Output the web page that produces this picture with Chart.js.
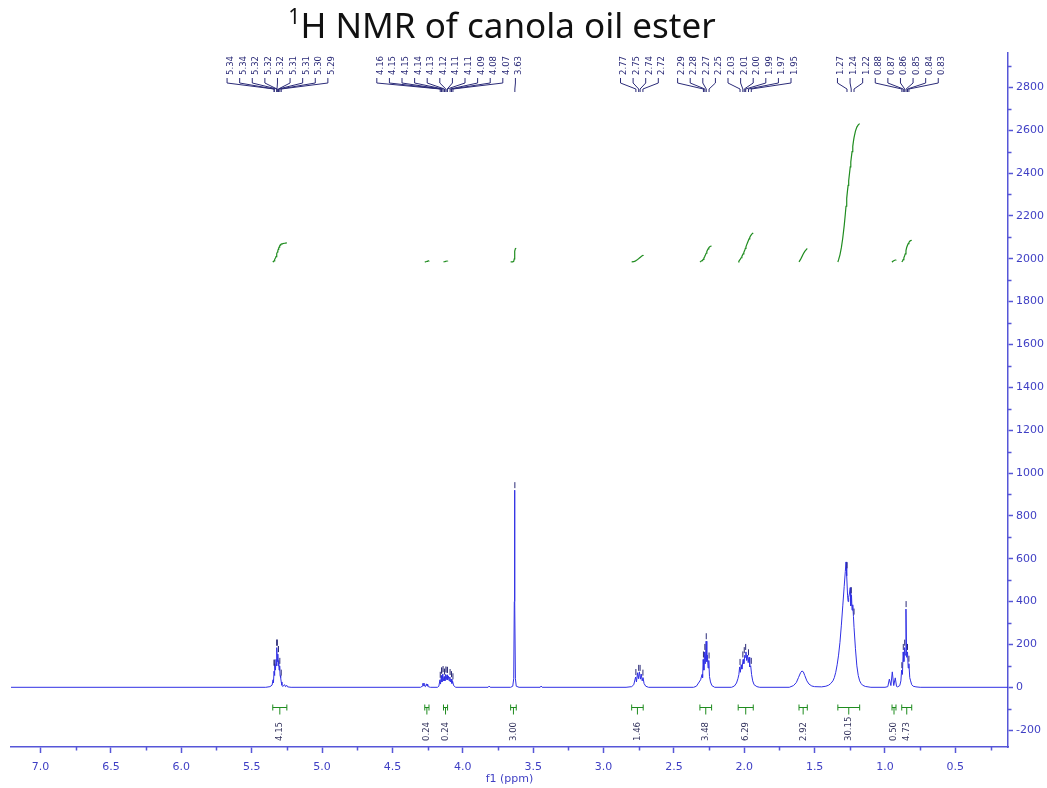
<!DOCTYPE html>
<html>
<head>
<meta charset="utf-8">
<script src="https://cdn.jsdelivr.net/npm/chart.js@4.4.1/dist/chart.umd.min.js"></script>
<style>
  html, body { margin: 0; padding: 0; background: #fff; }
  #wrap { width: 1047px; height: 788px; }
</style>
</head>
<body>
<div id="wrap"><canvas id="nmr"></canvas></div>
<script>
// 1H NMR, canola oil methyl ester. Intensities read per multiplet, [ppm, intensity].
const olefinCH = [[5.40,0],[5.37,3],[5.355,10],[5.348,35],[5.345,22],[5.341,75],[5.338,55],[5.335,110],
  [5.331,80],[5.327,130],[5.324,100],[5.320,185],[5.317,120],[5.314,155],[5.311,100],[5.308,125],
  [5.305,80],[5.301,100],[5.298,55],[5.294,45],[5.290,25],[5.285,10],[5.28,4],[5.265,12],[5.26,3],
  [5.25,9],[5.245,2],[5.22,0]];
const glycerolCH2 = [[4.30,0],[4.288,5],[4.284,18],[4.280,8],[4.276,20],[4.272,6],[4.265,3],[4.258,16],
  [4.254,6],[4.250,15],[4.245,3],[4.23,0]];
const esterCH2 = [[4.18,0],[4.17,5],[4.162,35],[4.158,15],[4.152,55],[4.148,25],[4.142,62],[4.138,30],
  [4.132,50],[4.127,30],[4.122,60],[4.118,35],[4.112,58],[4.108,35],[4.102,52],[4.097,30],[4.092,48],
  [4.087,25],[4.082,38],[4.077,18],[4.072,28],[4.065,8],[4.05,0]];
const minorLines = [[3.82,0],[3.812,6],[3.805,0]];
const methoxy = [[3.66,0],[3.645,5],[3.638,40],[3.634,400],[3.632,920],[3.630,400],[3.626,40],[3.62,5],[3.60,0]];
const minorLines2 = [[3.45,0],[3.443,6],[3.436,0]];
const bisAllylic = [[2.84,0],[2.80,3],[2.785,12],[2.772,48],[2.766,25],[2.758,68],[2.752,40],[2.745,72],
  [2.738,38],[2.732,62],[2.725,30],[2.719,45],[2.712,18],[2.70,5],[2.68,0]];
const alphaCH2 = [[2.36,0],[2.34,5],[2.325,20],[2.31,35],[2.300,60],[2.296,45],[2.292,130],[2.287,80],
  [2.282,165],[2.277,110],[2.271,215],[2.266,120],[2.262,150],[2.257,90],[2.252,125],[2.247,50],
  [2.240,25],[2.23,8],[2.21,0]];
const allylicCH2 = [[2.09,0],[2.07,6],[2.055,20],[2.045,40],[2.038,60],[2.033,95],[2.028,70],[2.022,105],
  [2.017,85],[2.008,130],[2.003,110],[1.996,150],[1.992,140],[1.988,165],[1.983,125],[1.977,150],
  [1.972,115],[1.966,140],[1.961,95],[1.954,100],[1.948,60],[1.94,30],[1.93,12],[1.91,3],[1.89,0]];
const betaCH2 = [[1.68,0],[1.65,8],[1.63,22],[1.615,45],[1.60,68],[1.59,76],[1.58,72],[1.57,55],
  [1.555,30],[1.54,15],[1.52,6],[1.50,3]];
const chainCH2 = [[1.45,2],[1.42,5],[1.40,10],[1.385,18],[1.37,30],[1.36,45],[1.35,70],[1.34,105],
  [1.33,150],[1.32,210],[1.31,290],[1.30,380],[1.29,470],[1.282,540],[1.277,585],[1.272,520],
  [1.266,430],[1.262,400],[1.258,420],[1.252,440],[1.247,465],[1.243,380],[1.238,430],[1.234,360],
  [1.229,385],[1.224,330],[1.22,280],[1.21,180],[1.20,100],[1.19,55],[1.18,30],[1.17,18],[1.16,10],
  [1.14,4],[1.10,0]];
const linolenicCH3 = [[1.00,0],[0.98,3],[0.969,38],[0.958,8],[0.948,72],[0.938,8],[0.927,44],[0.918,4]];
const terminalCH3 = [[0.91,2],[0.895,8],[0.887,30],[0.882,80],[0.876,60],[0.871,165],[0.866,120],
  [0.861,185],[0.856,150],[0.851,365],[0.846,140],[0.840,165],[0.835,90],[0.830,110],[0.824,45],
  [0.818,30],[0.81,12],[0.80,5],[0.78,2],[0.75,0]];

// picked peaks, one list per multiplet
const peakGroups = [
  [5.34, 5.34, 5.32, 5.32, 5.32, 5.31, 5.31, 5.30, 5.29],
  [4.16, 4.15, 4.15, 4.14, 4.13, 4.12, 4.11, 4.11, 4.09, 4.08, 4.07],
  [3.63],
  [2.77, 2.75, 2.74, 2.72],
  [2.29, 2.28, 2.27, 2.25],
  [2.03, 2.01, 2.00, 1.99, 1.97, 1.95],
  [1.27, 1.24, 1.22],
  [0.88, 0.87, 0.86, 0.85, 0.84, 0.83]
];

// integration regions
const integralFrom  = [5.35, 4.27, 4.137, 3.66, 2.80, 2.315, 2.043, 1.611, 1.335, 0.95, 0.881];
const integralTo    = [5.25, 4.24, 4.108, 3.62, 2.718, 2.232, 1.936, 1.552, 1.18, 0.922, 0.81];
const integralValue = [4.15, 0.24, 0.24, 3.00, 1.46, 3.48, 6.29, 2.92, 30.15, 0.50, 4.73];

// axis ticks
const xTicks = [7.0, 6.5, 6.0, 5.5, 5.0, 4.5, 4.0, 3.5, 3.0, 2.5, 2.0, 1.5, 1.0, 0.5];
const yTicks = [-200, 0, 200, 400, 600, 800, 1000, 1200, 1400, 1600, 1800, 2000, 2200, 2400, 2600, 2800];

const X_MIN = 0.126, X_MAX = 7.21;
const Y_MIN = -278.6, Y_MAX = 2960;
const INTEGRAL_BASE = 1985, INTEGRAL_SCALE = 21.4;

const spectrum = [[X_MAX, 0]].concat(olefinCH, glycerolCH2, esterCH2, minorLines, methoxy, minorLines2,
  bisAllylic, alphaCH2, allylicCH2, betaCH2, chainCH2, linolenicCH3, terminalCH3, [[X_MIN, 0]]);

function valueAt(ppm) {
  for (let i = 1; i < spectrum.length; i++) {
    const a = spectrum[i - 1], b = spectrum[i];
    if (ppm <= a[0] && ppm >= b[0]) {
      const t = (a[0] - ppm) / (a[0] - b[0] || 1);
      return a[1] + (b[1] - a[1]) * t;
    }
  }
  return 0;
}

// running integral of the spectrum over one region, scaled to its reported value
function integralCurve(from, to, value) {
  const pts = [[from, valueAt(from)]]
    .concat(spectrum.filter(p => p[0] < from && p[0] > to), [[to, valueAt(to)]]);
  const cum = [0];
  let acc = 0;
  for (let i = 1; i < pts.length; i++) {
    acc += (pts[i - 1][1] + pts[i][1]) / 2 * (pts[i - 1][0] - pts[i][0]);
    cum.push(acc);
  }
  return pts.map((p, i) => ({ x: p[0], y: INTEGRAL_BASE + INTEGRAL_SCALE * value * cum[i] / acc }));
}

const axisColor = '#5656d8';
const tickColor = '#3f3fc4';
const labelColor = '#2b2b78';
const green = '#1f8c1f';

const datasets = [{
  data: spectrum.map(p => ({ x: p[0], y: p[1] })),
  borderColor: '#3030e4',
  borderWidth: 1,
  pointRadius: 0
}];
integralValue.forEach((v, i) => {
  datasets.push({
    data: integralCurve(integralFrom[i], integralTo[i], v),
    borderColor: green,
    borderWidth: 1.2,
    pointRadius: 0
  });
});

const titlePlugin = {
  id: 'nmrTitle',
  afterDraw(chart) {
    const ctx = chart.ctx;
    const main = 'H NMR of canola oil ester';
    ctx.save();
    ctx.fillStyle = '#111';
    ctx.textBaseline = 'alphabetic';
    ctx.font = '21px "Noto Sans"';
    const w0 = ctx.measureText('1').width;
    ctx.font = '35px "Noto Sans"';
    const w1 = ctx.measureText(main).width;
    const x0 = 502 - (w0 + w1) / 2;
    ctx.font = '21px "Noto Sans"';
    ctx.fillText('1', x0, 24);
    ctx.font = '35px "Noto Sans"';
    ctx.fillText(main, x0 + w0, 38);
    ctx.restore();
  }
};

const minorTicks = {
  id: 'minorTicks',
  afterDraw(chart) {
    const { ctx, chartArea, scales: { x, y } } = chart;
    ctx.save();
    ctx.strokeStyle = axisColor;
    ctx.lineWidth = 1.5;
    ctx.beginPath();
    for (let v = 0.25; v < X_MAX; v += 0.5) {
      if (v < X_MIN) continue;
      const px = Math.round(x.getPixelForValue(v)) + 0.5;
      ctx.moveTo(px, chartArea.bottom);
      ctx.lineTo(px, chartArea.bottom + 3.5);
    }
    for (let v = -100; v < Y_MAX; v += 200) {
      const py = Math.round(y.getPixelForValue(v)) + 0.5;
      ctx.moveTo(chartArea.right, py);
      ctx.lineTo(chartArea.right + 3.5, py);
    }
    ctx.stroke();
    ctx.restore();
  }
};

const peakLabels = {
  id: 'peakLabels',
  afterDatasetsDraw(chart) {
    const { ctx, chartArea, scales: { x, y } } = chart;
    const gap = 12.6;
    // labels sit round the mean of their peaks; overlapping groups are pushed apart,
    // the larger group taking the larger share of the shift
    const groups = peakGroups.map(g => {
      const px = g.map(v => x.getPixelForValue(v));
      const c = px.reduce((s, v) => s + v, 0) / px.length;
      return { px, c, n: g.length, half: (g.length - 1) * gap / 2 };
    });
    for (let pass = 0; pass < 30; pass++) {
      for (let i = 1; i < groups.length; i++) {
        const a = groups[i - 1], b = groups[i];
        const overlap = (a.c + a.half + gap) - (b.c - b.half);
        if (overlap > 0) {
          const wa = a.n / (a.n + b.n);
          a.c -= overlap * wa;
          b.c += overlap * (1 - wa);
        }
      }
    }
    const textBottom = chartArea.top + 22;
    ctx.save();
    ctx.font = '9.5px "DejaVu Sans Condensed"';
    ctx.fillStyle = labelColor;
    ctx.strokeStyle = labelColor;
    ctx.lineWidth = 1;
    groups.forEach((g, gi) => {
      peakGroups[gi].forEach((v, i) => {
        const lx = g.c - g.half + i * gap;
        ctx.save();
        ctx.translate(lx + 3.5, textBottom);
        ctx.rotate(-Math.PI / 2);
        ctx.textAlign = 'left';
        ctx.textBaseline = 'middle';
        ctx.fillText(v.toFixed(2), 0, 0);
        ctx.restore();
        ctx.beginPath();
        ctx.moveTo(lx, textBottom + 3);
        ctx.lineTo(lx, textBottom + 8);
        ctx.lineTo(g.px[i], textBottom + 14);
        ctx.lineTo(g.px[i], textBottom + 17);
        ctx.stroke();
        // small mark over the picked line
        let top = 0;
        for (let d = -0.004; d <= 0.004; d += 0.001) top = Math.max(top, valueAt(v + d));
        const ty = y.getPixelForValue(top);
        ctx.beginPath();
        ctx.moveTo(g.px[i], ty - 2);
        ctx.lineTo(g.px[i], ty - 8);
        ctx.stroke();
      });
    });
    ctx.restore();
  }
};

const integralMarks = {
  id: 'integralMarks',
  afterDatasetsDraw(chart) {
    const { ctx, chartArea, scales: { x } } = chart;
    const by = chartArea.bottom - 39.5;
    ctx.save();
    integralValue.forEach((v, i) => {
      const x1 = x.getPixelForValue(integralFrom[i]);
      const x2 = x.getPixelForValue(integralTo[i]);
      const xc = (x1 + x2) / 2;
      ctx.strokeStyle = green;
      ctx.lineWidth = 1;
      ctx.beginPath();
      ctx.moveTo(x1, by - 3); ctx.lineTo(x1, by + 3);
      ctx.moveTo(x2, by - 3); ctx.lineTo(x2, by + 3);
      ctx.moveTo(x1, by); ctx.lineTo(x2, by);
      ctx.moveTo(xc, by); ctx.lineTo(xc, by + 7);
      ctx.stroke();
      ctx.save();
      ctx.translate(xc, chartArea.bottom - 6);
      ctx.rotate(-Math.PI / 2);
      ctx.font = '9.5px "DejaVu Sans Condensed"';
      ctx.fillStyle = '#34345e';
      ctx.textAlign = 'left';
      ctx.textBaseline = 'middle';
      ctx.fillText(v.toFixed(2), 0, 0);
      ctx.restore();
    });
    ctx.restore();
  }
};

new Chart(document.getElementById('nmr'), {
  type: 'line',
  data: { datasets },
  options: {
    responsive: true,
    maintainAspectRatio: false,
    animation: false,
    devicePixelRatio: 1,
    parsing: false,
    layout: { padding: { left: 11, top: 53, right: 0, bottom: 0 } },
    elements: { line: { tension: 0 }, point: { radius: 0 } },
    plugins: {
      legend: { display: false },
      tooltip: { enabled: false },
      title: { display: false }
    },
    scales: {
      x: {
        type: 'linear',
        reverse: true,
        min: X_MIN,
        max: X_MAX,
        afterFit: s => { s.height = 41; },
        afterBuildTicks: s => { s.ticks = xTicks.map(v => ({ value: v })); },
        grid: { drawOnChartArea: false, drawTicks: true, tickLength: 6, tickColor: axisColor, tickWidth: 1.5 },
        border: { color: axisColor, width: 1.5 },
        ticks: {
          autoSkip: false, maxRotation: 0, padding: 8,
          color: tickColor, font: { family: 'DejaVu Sans', size: 11 },
          callback: v => v.toFixed(1)
        },
        title: {
          display: true, text: 'f1 (ppm)', color: tickColor,
          font: { family: 'DejaVu Sans', size: 11 }, padding: { top: 0, bottom: 2 }
        }
      },
      y: {
        type: 'linear',
        position: 'right',
        min: Y_MIN,
        max: Y_MAX,
        afterFit: s => { s.width = 39; },
        afterBuildTicks: s => { s.ticks = yTicks.map(v => ({ value: v })); },
        grid: { drawOnChartArea: false, drawTicks: true, tickLength: 5, tickColor: axisColor, tickWidth: 1.5 },
        border: { color: axisColor, width: 1.5 },
        ticks: {
          autoSkip: false, padding: 3,
          color: tickColor, font: { family: 'DejaVu Sans', size: 11 },
          callback: v => String(v)
        }
      }
    }
  },
  plugins: [titlePlugin, minorTicks, peakLabels, integralMarks]
});
</script>
</body>
</html>
